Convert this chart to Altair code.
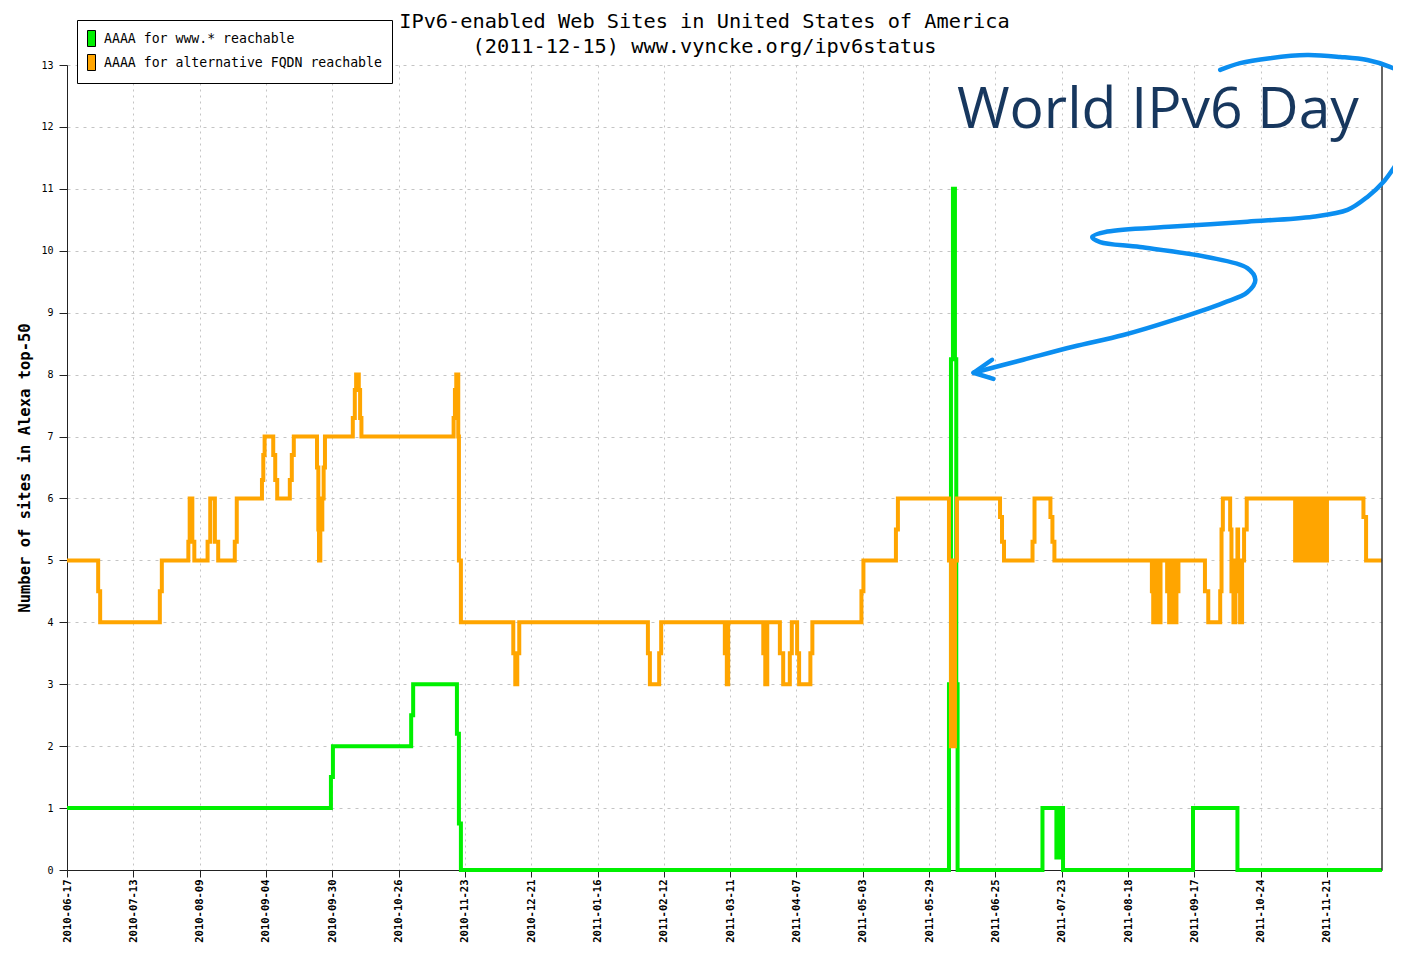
import altair as alt
import pandas as pd

# ---------------- data ----------------
tick_dates = ["2010-06-17", "2010-07-13", "2010-08-09", "2010-09-04", "2010-09-30",
              "2010-10-26", "2010-11-23", "2010-12-21", "2011-01-16", "2011-02-12",
              "2011-03-11", "2011-04-07", "2011-05-03", "2011-05-29", "2011-06-25",
              "2011-07-23", "2011-08-18", "2011-09-17", "2011-10-24", "2011-11-21"]
x_end = 19.83  # 2011-12-15, in tick-interval units

series_names = ["AAAA for www.* reachable", "AAAA for alternative FQDN reachable"]
series_colors = ["#00f000", "#ffa500"]

green_x = [0, 3.98, 4.01, 5.19, 5.22, 5.88, 5.91, 5.94, 13.30, 13.33, 13.36, 13.39,
           13.41, 13.43, 14.71, 14.92, 14.96, 15.02, 16.98, 17.65, 19.83]
green_y = [1, 1.5, 2, 2.5, 3, 2.2, 0.75, 0, 3, 8.25, 11, 8.25,
           3, 0, 1, 0.2, 1, 0, 1, 0, 0]

orange_x = [0, 0.47, 0.50, 1.40, 1.43, 1.83, 1.85, 1.89, 1.92, 2.12, 2.16, 2.23, 2.28,
            2.53, 2.56, 2.94, 2.96, 2.98, 3.11, 3.14, 3.17, 3.36, 3.39, 3.42, 3.77,
            3.79, 3.80, 3.82, 3.85, 3.87, 3.89, 4.31, 4.34, 4.36, 4.40, 4.42, 4.44,
            5.83, 5.85, 5.87, 5.90, 5.91, 5.94, 6.73, 6.76, 6.79, 6.82, 8.76, 8.79,
            8.93, 8.96, 9.92, 9.95, 9.97, 10.50, 10.53, 10.56, 10.75, 10.80, 10.90,
            10.93, 11.01, 11.04, 11.21, 11.24, 11.98, 12.01, 12.50, 12.53, 13.30,
            13.33, 13.39, 13.42, 14.07, 14.10, 14.13, 14.56, 14.59, 14.83, 14.86,
            14.89, 16.36, 16.38, 16.41, 16.45, 16.49, 16.59, 16.62, 16.65, 16.70,
            16.73, 16.76, 17.16, 17.21, 17.39, 17.41, 17.43, 17.54, 17.56, 17.59,
            17.62, 17.65, 17.66, 17.69, 17.72, 17.75, 17.79, 18.52, 18.55, 18.61,
            18.64, 18.70, 18.73, 18.79, 18.82, 18.88, 18.91, 18.97, 19.00, 19.55,
            19.59, 19.83]
orange_y = [5, 4.5, 4, 4.5, 5, 5.3, 6, 5.3, 5, 5.3, 6, 5.3, 5,
            5.3, 6, 6.3, 6.7, 7, 6.7, 6.3, 6, 6.3, 6.7, 7, 6.5,
            5.5, 5, 5.5, 6, 6.5, 7, 7.3, 7.75, 8, 7.75, 7.3, 7,
            7.3, 7.75, 8, 7, 5, 4, 3.5, 3, 3.5, 4, 3.5, 3,
            3.5, 4, 3.5, 3, 4, 3.5, 3, 4, 3.5, 3, 3.5,
            4, 3.5, 3, 3.5, 4, 4.5, 5, 5.5, 6, 5,
            2, 5, 6, 5.7, 5.3, 5, 5.3, 6, 5.7, 5.3,
            5, 4.5, 4, 5, 4, 5, 4.5, 4, 5, 4,
            4.5, 5, 4.5, 4, 4.5, 5.5, 6, 5.5, 4.5, 4,
            5, 5.5, 4.5, 4, 5, 5.5, 6, 5, 6, 5,
            6, 5, 6, 5, 6, 5, 6, 5, 6, 5.7,
            5, 5]

# hand-drawn annotation arrow (in chart units)
curve_x = [17.39, 17.69, 18.14, 18.70, 19.20, 19.61, 19.95, 20.18, 20.38, 20.44, 20.33,
           20.12, 19.85, 19.61, 19.31, 18.79, 17.80, 16.68, 15.69, 15.46, 15.58, 16.18,
           17.19, 17.80, 17.92, 17.80, 17.44, 16.68, 15.93, 15.17, 14.42, 13.67]
curve_y = [12.92, 13.03, 13.11, 13.16, 13.13, 13.08, 12.97, 12.84, 12.60, 12.19, 11.79,
           11.51, 11.11, 10.87, 10.66, 10.55, 10.47, 10.39, 10.31, 10.22, 10.14, 10.06,
           9.90, 9.72, 9.53, 9.33, 9.16, 8.88, 8.64, 8.45, 8.24, 8.03]
head_x = [13.95, 13.67, 13.97]
head_y = [8.24, 8.03, 7.93]
note_text = ["World IPv6 Day"]
note_x = [13.42]
note_y = [11.98]

title_lines = ["IPv6-enabled Web Sites in United States of America",
               "(2011-12-15) www.vyncke.org/ipv6status"]
y_title = "Number of sites in Alexa top-50"

# ---------------- chart ----------------
MONO = "DejaVu Sans Mono"
xs = alt.Scale(domain=[0, x_end], nice=False, zero=False)
ys = alt.Scale(domain=[0, 13], nice=False, zero=True)

label_expr = "[" + ",".join("'" + d + "'" for d in tick_dates) + "][datum.value]"

x_axis = alt.Axis(values=list(range(len(tick_dates))), labelExpr=label_expr, title=None,
                  labelAngle=270, labelFont=MONO, labelFontSize=10.5, labelColor="black",
                  labelFontWeight="bold",
                  labelPadding=2, tickSize=7, grid=True, gridDash=[2, 4],
                  gridColor="#c4c4c4", domainColor="#222", tickColor="#222",
                  labelOverlap=False)
y_axis = alt.Axis(values=list(range(14)), format="d", title=y_title, titleFont=MONO,
                  titleFontSize=15.5, titleFontWeight="bold", titleColor="black",
                  titlePadding=8, labelFont=MONO, labelFontSize=10, labelColor="black",
                  labelPadding=6, tickSize=8, grid=True, gridDash=[3, 5],
                  gridColor="#c4c4c4", domainColor="#222", tickColor="#222")

green_df = pd.DataFrame({"x": green_x, "y": green_y})
orange_df = pd.DataFrame({"x": orange_x, "y": orange_y})

green = alt.Chart(green_df).mark_line(interpolate="step-after", strokeWidth=4,
                                      color=series_colors[0]).encode(
    x=alt.X("x:Q", scale=xs, axis=x_axis),
    y=alt.Y("y:Q", scale=ys, axis=y_axis))
orange = alt.Chart(orange_df).mark_line(interpolate="step-after", strokeWidth=4,
                                        color=series_colors[1]).encode(
    x=alt.X("x:Q", scale=xs), y=alt.Y("y:Q", scale=ys))

legend_df = pd.DataFrame({"series": series_names})
legend_layer = alt.Chart(legend_df).mark_square(opacity=0, size=0).encode(
    x=alt.value(0), y=alt.value(0),
    fill=alt.Fill("series:N", sort=series_names,
                  scale=alt.Scale(domain=series_names, range=series_colors),
                  legend=alt.Legend(title=None, orient="none", legendX=10, legendY=-45,
                                    direction="vertical", fillColor="white",
                                    strokeColor="black", padding=10, rowPadding=3,
                                    cornerRadius=0,
                                    symbolType="M-1,-1H0V1H-1Z", symbolSize=256,
                                    symbolStrokeColor="black", symbolStrokeWidth=1,
                                    symbolOpacity=1, labelFont=MONO, labelFontSize=13.2,
                                    labelColor="black", labelOffset=0, labelLimit=0)))

border_df = pd.DataFrame({"x": [x_end]})
border = alt.Chart(border_df).mark_rule(color="#333", strokeWidth=1.5).encode(
    x=alt.X("x:Q", scale=xs))

curve_df = pd.DataFrame({"x": curve_x, "y": curve_y, "i": list(range(len(curve_x)))})
curve = alt.Chart(curve_df).mark_line(interpolate="catmull-rom", color="#0b8ef0",
                                      strokeWidth=4.5, strokeCap="round", clip=False).encode(
    x=alt.X("x:Q", scale=xs), y=alt.Y("y:Q", scale=ys), order="i:Q")
head_df = pd.DataFrame({"x": head_x, "y": head_y, "i": [0, 1, 2]})
head = alt.Chart(head_df).mark_line(color="#0b8ef0", strokeWidth=4.5, strokeCap="round",
                                    strokeJoin="round", clip=False).encode(
    x=alt.X("x:Q", scale=xs), y=alt.Y("y:Q", scale=ys), order="i:Q")

note_df = pd.DataFrame({"t": note_text, "x": note_x, "y": note_y})
note = alt.Chart(note_df).mark_text(align="left", baseline="alphabetic", font="Open Sans",
                                    fontSize=57, color="#17375e").encode(
    x=alt.X("x:Q", scale=xs), y=alt.Y("y:Q", scale=ys), text="t:N")

chart = alt.layer(green, orange, legend_layer, border, curve, head, note).properties(
    width=1315, height=805,
    padding={"left": 59, "top": 57, "right": 11, "bottom": 75},
    autosize=alt.AutoSizeParams(type="none"),
    title=alt.TitleParams(text=title_lines, font=MONO, fontSize=20.3, fontWeight="normal",
                          color="black", anchor="middle", frame="group", dx=-20,
                          lineHeight=25, offset=-38),
    background="white",
).configure_view(stroke=None)

chart.save("out.html", embed_options={"renderer": "svg", "actions": False})
